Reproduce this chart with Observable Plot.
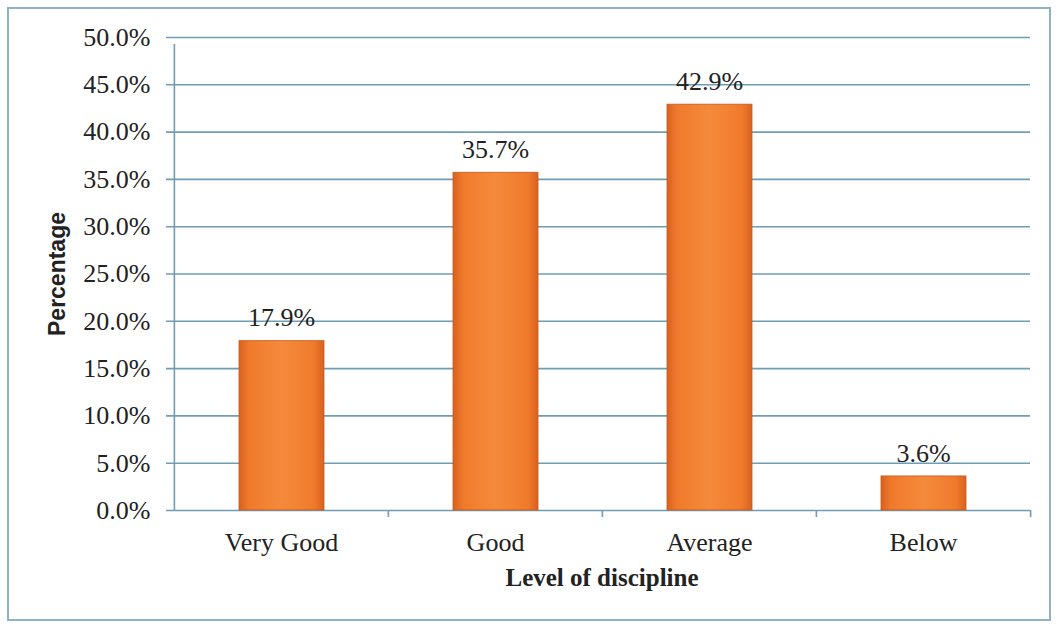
<!DOCTYPE html>
<html><head><meta charset="utf-8">
<script src="https://cdn.jsdelivr.net/npm/d3@7"></script>
<script src="https://cdn.jsdelivr.net/npm/@observablehq/plot@0.6"></script>
<style>
body{margin:0;background:#fff;}
#wrap{position:relative;width:1058px;height:626px;overflow:hidden;}
#border{position:absolute;left:7px;top:7px;width:1040px;height:610px;border:2px solid #8fb3c4;pointer-events:none;}
#wrap svg{position:absolute;left:0;top:0;}
</style></head>
<body><div id="wrap"><div id="border"></div></div>
<script>
const categories = ["Very Good", "Good", "Average", "Below"];
const values = [17.9, 35.7, 42.9, 3.6];
const yTicks = [0, 5, 10, 15, 20, 25, 30, 35, 40, 45, 50];
const xTitle = ["Level of discipline"];
const yTitle = ["Percentage"];

const data = categories.map((c, i) => ({category: c, value: values[i]}));
const fmt = d => d.toFixed(1) + "%";
const grid = "#6f9db4";
const serif = "'Liberation Serif', 'Times New Roman', serif";
const sans = "'Liberation Sans', Arial, sans-serif";
const bw = (1058 - 173 - 28) / categories.length;

const chart = Plot.plot({
  width: 1058,
  height: 626,
  marginLeft: 173,
  marginRight: 28,
  marginTop: 37,
  marginBottom: 116,
  style: {fontFamily: serif, fontSize: "26px", color: "#222", background: "transparent"},
  x: {domain: categories, padding: 0},
  y: {domain: [0, 50]},
  marks: [
    Plot.ruleY(yTicks, {y: d => d, stroke: grid, strokeWidth: 1.6, insetLeft: -7}),
    Plot.ruleX([categories[0]], {x: d => d, y1: 0, y2: 50, dx: -bw / 2, stroke: grid, strokeWidth: 1.6, insetBottom: -7}),
    Plot.ruleX(categories.slice(1), {x: d => d, y1: 0, y2: 0, dx: -bw / 2, stroke: grid, strokeWidth: 1.6, insetBottom: -7}),
    Plot.ruleX([categories[categories.length - 1]], {x: d => d, y1: 0, y2: 0, dx: bw / 2, stroke: grid, strokeWidth: 1.6, insetBottom: -7}),
    Plot.barY(data, {x: "category", y: "value", fill: "url(#barGrad)", stroke: "#c9581a", strokeWidth: 0.8, insetLeft: 65, insetRight: 64}),
    Plot.text(data, {x: "category", y: "value", text: d => fmt(d.value), dy: -23, fill: "#222", fontFamily: serif, fontSize: 26}),
    Plot.axisY(yTicks, {tickSize: 0, tickPadding: 23, tickFormat: fmt, label: null, fill: "#222", fontSize: 26}),
    Plot.axisX({tickSize: 0, tickPadding: 22, label: null, fill: "#222", fontSize: 26}),
    Plot.text(xTitle, {text: d => d, frameAnchor: "bottom", dy: 75, fontWeight: "bold", fontSize: 25, fill: "#222", fontFamily: serif}),
    Plot.text(yTitle, {text: d => d, frameAnchor: "left", textAnchor: "middle", dx: -116, rotate: -90, fontWeight: "bold", fontSize: 23, fill: "#222", fontFamily: sans})
  ]
});

const defs = d3.select(chart).insert("defs", ":first-child");
const g = defs.append("linearGradient").attr("id", "barGrad").attr("x1", 0).attr("x2", 1).attr("y1", 0).attr("y2", 0);
g.append("stop").attr("offset", "0%").attr("stop-color", "#d8621f");
g.append("stop").attr("offset", "12%").attr("stop-color", "#f07a2c");
g.append("stop").attr("offset", "50%").attr("stop-color", "#f58a3c");
g.append("stop").attr("offset", "88%").attr("stop-color", "#f07a2c");
g.append("stop").attr("offset", "100%").attr("stop-color", "#d8621f");

document.getElementById("wrap").appendChild(chart);
</script>
</body></html>
